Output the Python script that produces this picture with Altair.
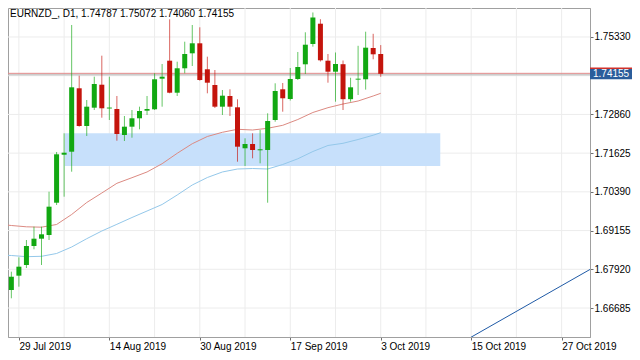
import altair as alt
import pandas as pd

# ---------------- data ----------------
title_text = "EURNZD_, D1, 1.74787 1.75072 1.74060 1.74155"

bar_index = list(range(-1, 49))  # daily bars, 0 = 29 Jul 2019, 48 = 3 Oct 2019
opens = [1.67259, 1.67716, 1.68057, 1.68663, 1.68896, 1.69014, 1.70044, 1.71575, 1.71671, 1.73694,
         1.72491, 1.73075, 1.73808, 1.73049, 1.73033, 1.72204, 1.72469, 1.72737, 1.72979, 1.73024,
         1.74000, 1.74574, 1.73553, 1.74332, 1.74810, 1.75129, 1.74300, 1.73799, 1.73107, 1.73448,
         1.73087, 1.71780, 1.71917, 1.71716, 1.71725, 1.72682, 1.73662, 1.73352, 1.73990, 1.74459,
         1.75107, 1.75754, 1.74574, 1.74223, 1.74462, 1.73346, 1.73970, 1.73981, 1.74979, 1.74787]
highs = [1.67843, 1.68302, 1.68854, 1.69279, 1.69279, 1.70395, 1.71662, 1.72258, 1.75713, 1.74096,
         1.73320, 1.74064, 1.74734, 1.74064, 1.73448, 1.72810, 1.73001, 1.73107, 1.73448, 1.74172,
         1.74469, 1.75895, 1.74542, 1.75180, 1.75713, 1.75639, 1.74702, 1.74277, 1.73639, 1.73662,
         1.73343, 1.72099, 1.72258, 1.72363, 1.72896, 1.73853, 1.73863, 1.74341, 1.74852, 1.75480,
         1.76112, 1.75898, 1.74788, 1.74836, 1.74580, 1.74029, 1.75049, 1.75499, 1.75432, 1.75072]
lows = [1.66995, 1.67365, 1.67961, 1.68558, 1.68057, 1.68854, 1.69971, 1.70236, 1.71033, 1.72469,
        1.72172, 1.73001, 1.72756, 1.72682, 1.72022, 1.72012, 1.72118, 1.72386, 1.72842, 1.73001,
        1.73107, 1.73534, 1.73448, 1.74172, 1.74405, 1.73936, 1.73534, 1.73065, 1.72842, 1.72810,
        1.71352, 1.71215, 1.71461, 1.71301, 1.70044, 1.72628, 1.72947, 1.73304, 1.73958, 1.74150,
        1.75021, 1.74548, 1.73872, 1.73266, 1.73001, 1.73266, 1.73480, 1.73652, 1.74619, 1.74060]
closes = [1.67684, 1.68003, 1.68663, 1.68896, 1.69036, 1.69917, 1.71588, 1.71639, 1.73725, 1.72491,
          1.73107, 1.73831, 1.73056, 1.73079, 1.72236, 1.72469, 1.72737, 1.72969, 1.73033, 1.73981,
          1.74064, 1.73553, 1.74332, 1.74788, 1.75129, 1.73958, 1.73872, 1.73107, 1.73458, 1.73107,
          1.71831, 1.71917, 1.71725, 1.71748, 1.72650, 1.73607, 1.73375, 1.73990, 1.74373, 1.75084,
          1.75952, 1.74587, 1.74223, 1.74469, 1.73346, 1.73725, 1.74000, 1.74989, 1.74778, 1.74155]

ma_index = [-2, -1, 1, 3, 5, 7, 9, 11, 13, 15, 17, 19, 21, 23, 25, 27, 29, 31, 33, 35, 37, 39, 41, 43, 45, 47, 48]
ma_fast = [1.69340, 1.69317, 1.69275, 1.69263, 1.69349, 1.69668, 1.70051, 1.70354, 1.70663, 1.70842,
           1.71024, 1.71288, 1.71620, 1.71926, 1.72156, 1.72290, 1.72386, 1.72363, 1.72418, 1.72513,
           1.72698, 1.72922, 1.73075, 1.73193, 1.73288, 1.73448, 1.73534]
ma_slow = [1.68370, 1.68360, 1.68322, 1.68334, 1.68424, 1.68631, 1.68896, 1.69141, 1.69355, 1.69572,
           1.69779, 1.69987, 1.70290, 1.70609, 1.70848, 1.71024, 1.71119, 1.71135, 1.71119, 1.71263,
           1.71445, 1.71677, 1.71869, 1.71939, 1.72060, 1.72197, 1.72277]

zone_x = [6.1, 55.9]
zone_price = [1.72258, 1.71215]

trend_x = [58.4, 76.1]
trend_price = [1.65537, 1.67961]

last_price = 1.74155

x_tick_values = [0, 12, 24, 36, 48, 60, 72]
x_tick_labels = ["29 Jul 2019", "14 Aug 2019", "30 Aug 2019", "17 Sep 2019",
                 "3 Oct 2019", "15 Oct 2019", "27 Oct 2019"]
x_grid = [0, 6, 12, 18, 24, 30, 36, 42, 48, 54, 60, 66, 72]
y_tick_values = [1.75330, 1.72860, 1.71625, 1.70390, 1.69155, 1.67920, 1.66685]
y_grid = [1.75330, 1.74095, 1.72860, 1.71625, 1.70390, 1.69155, 1.67920, 1.66685]

# ---------------- styling ----------------
GREEN = "#12a812"
RED = "#c4140c"
FONT = "Liberation Sans"
PLOT_W = 582
PLOT_H = 329

candles = pd.DataFrame({"i": bar_index, "open": opens, "high": highs,
                        "low": lows, "close": closes})
candles["dir"] = ["up" if c >= o else "down" for o, c in zip(opens, closes)]

ma_df = pd.DataFrame({"i": ma_index, "fast": ma_fast, "slow": ma_slow})
zone_df = pd.DataFrame({"x1": [zone_x[0]], "x2": [zone_x[1]],
                        "p1": [zone_price[0]], "p2": [zone_price[1]]})
trend_df = pd.DataFrame({"i": trend_x, "p": trend_price})
last_df = pd.DataFrame({"p": [last_price], "label": [f"{last_price:.5f}"]})
xgrid_df = pd.DataFrame({"g": x_grid})
ygrid_df = pd.DataFrame({"g": y_grid})
title_df = pd.DataFrame({"t": [title_text]})

xscale = alt.Scale(domain=[-0.782, 75.1], nice=False, zero=False)
yscale = alt.Scale(domain=[1.65760, 1.76255], nice=False, zero=False)
cscale = alt.Scale(domain=["up", "down"], range=[GREEN, RED])

label_expr = " : ".join(f"datum.value == {v} ? '{l}'" for v, l in zip(x_tick_values, x_tick_labels)) + " : ''"

x_axis = alt.Axis(values=x_tick_values, labelExpr=label_expr, orient="bottom", grid=False,
                  tickSize=3, tickColor="#707070", domainColor="#a0a0a0", labelAlign="left",
                  labelBaseline="top", labelPadding=1, labelFontSize=10, labelFont=FONT,
                  labelColor="#000000", labelOverlap=False, labelFlush=False, labelBound=False,
                  title=None)
y_axis = alt.Axis(values=y_tick_values, orient="right", format=".5f", grid=False,
                  tickSize=3, tickColor="#707070", domainColor="#a0a0a0", labelPadding=1,
                  labelFontSize=10, labelFont=FONT, labelColor="#000000",
                  labelOverlap=False, title=None)


def X(field):
    return alt.X(field, scale=xscale, axis=x_axis)


def Y(field):
    return alt.Y(field, scale=yscale, axis=y_axis)


vgrid = alt.Chart(xgrid_df).mark_rule(color="#ececec", strokeWidth=1).encode(x=X("g:Q"))
hgrid = alt.Chart(ygrid_df).mark_rule(color="#ececec", strokeWidth=1).encode(y=Y("g:Q"))

zone = alt.Chart(zone_df).mark_rect(color="#c7e0fb").encode(
    x=X("x1:Q"), x2="x2:Q", y=Y("p1:Q"), y2="p2:Q")

fast_line = alt.Chart(ma_df).mark_line(color="#dc8a82", strokeWidth=1, clip=True).encode(
    x=X("i:Q"), y=Y("fast:Q"))
slow_line = alt.Chart(ma_df).mark_line(color="#94c8ea", strokeWidth=1, clip=True).encode(
    x=X("i:Q"), y=Y("slow:Q"))

price_gray = alt.Chart(last_df).mark_rule(color="#b4b4b4", strokeWidth=1, yOffset=1).encode(
    y=Y("p:Q"))
price_red = alt.Chart(last_df).mark_rule(color="#e08a8a", strokeWidth=1, yOffset=-0.5).encode(
    y=Y("p:Q"))

trend = alt.Chart(trend_df).mark_line(color="#1f5aa6", strokeWidth=1, clip=True).encode(
    x=X("i:Q"), y=Y("p:Q"))

wicks = alt.Chart(candles).mark_rule(strokeWidth=1, opacity=0.65, clip=True).encode(
    x=X("i:Q"), y=Y("low:Q"), y2="high:Q",
    color=alt.Color("dir:N", scale=cscale, legend=None))
bodies = alt.Chart(candles).mark_bar(size=5, clip=True).encode(
    x=X("i:Q"), y=Y("open:Q"), y2="close:Q",
    color=alt.Color("dir:N", scale=cscale, legend=None))

price_box = alt.Chart(last_df).mark_tick(orient="horizontal", size=42, thickness=11,
                                         color="#2b5d9b", opacity=1, clip=False).encode(
    x=alt.value(PLOT_W + 21), y=Y("p:Q"))
price_box_top = alt.Chart(last_df).mark_tick(orient="horizontal", size=42, thickness=1.5,
                                             color="#d0302a", opacity=1, clip=False, yOffset=-5.5).encode(
    x=alt.value(PLOT_W + 21), y=Y("p:Q"))
price_text = alt.Chart(last_df).mark_text(align="left", baseline="middle", color="white",
                                          fontSize=10, font=FONT, clip=False).encode(
    x=alt.value(PLOT_W + 3), y=Y("p:Q"), text="label:N")

title = alt.Chart(title_df).mark_text(align="left", baseline="top", color="#000000",
                                      fontSize=10, font=FONT).encode(
    x=alt.value(2), y=alt.value(1), text="t:N")

chart = alt.layer(
    vgrid, hgrid, zone, fast_line, slow_line, price_gray, price_red, trend,
    wicks, bodies, price_box, price_box_top, price_text, title
).properties(
    width=PLOT_W, height=PLOT_H,
    padding={"left": 0, "top": 0, "right": 42, "bottom": 15},
    autosize=alt.AutoSizeParams(type="none"),
    background="white",
).configure_view(stroke="#a0a0a0", strokeWidth=1)

chart.save("out.html", embed_options={"renderer": "svg", "actions": False})
